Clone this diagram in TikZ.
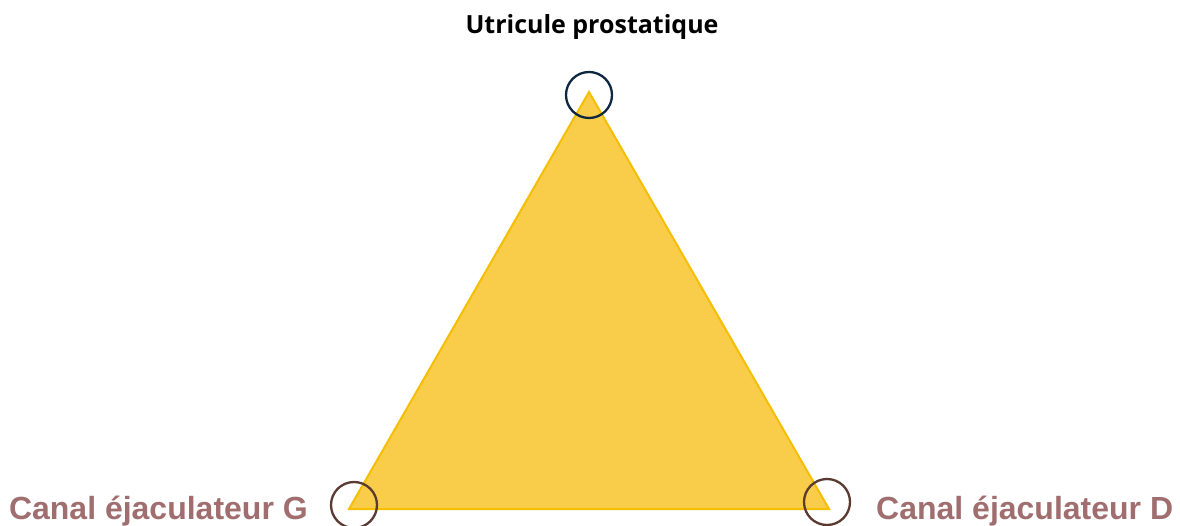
\documentclass[tikz,border=0pt]{standalone}
\usepackage{fontspec}
\setmainfont{Liberation Sans}
\newfontfamily\topfont{Open Sans}
\usetikzlibrary{positioning}
\definecolor{trifill}{HTML}{F9CD4A}
\definecolor{triline}{HTML}{F5BE00}
\definecolor{topring}{HTML}{0E2841}
\definecolor{basering}{HTML}{5B3A31}
\definecolor{ductmauve}{HTML}{A06E6F}

\begin{document}
\begin{tikzpicture}[
  x=1pt, y=-1pt,
  ring/.style={draw=#1, line width=2.3pt, circle, minimum size=46pt, inner sep=0pt},
  ductlabel/.style={font=\fontsize{32}{36}\selectfont\bfseries, text=ductmauve, inner sep=0pt},
  toplabel/.style={font=\topfont\fontsize{25}{28}\selectfont\bfseries, text=black, inner sep=0pt}
]
  \useasboundingbox (0,0) rectangle (1180,526);

  % Vertices
  \coordinate (apex)  at (589,92);
  \coordinate (left)  at (349,509);
  \coordinate (right) at (829,509);

  % Triangle
  \fill[trifill] (apex) -- (left) -- (right) -- cycle;
  \draw[triline, line width=2pt, line join=miter] (apex) -- (left) -- (right) -- cycle;

  % Rings
  \node[ring=topring]  (utr) at (589,95) {};
  \node[ring=basering] (cg)  at (354,505) {};
  \node[ring=basering] (cd)  at (827,502) {};

  % Labels
  \node[toplabel, anchor=base] (utrlabel) at (592,34) {Utricule prostatique};
  \node[ductlabel, anchor=base east] (cglabel) at (308,519) {Canal éjaculateur G};
  \node[ductlabel, anchor=base west] (cdlabel) at (876,519) {Canal éjaculateur D};
\end{tikzpicture}
\end{document}
